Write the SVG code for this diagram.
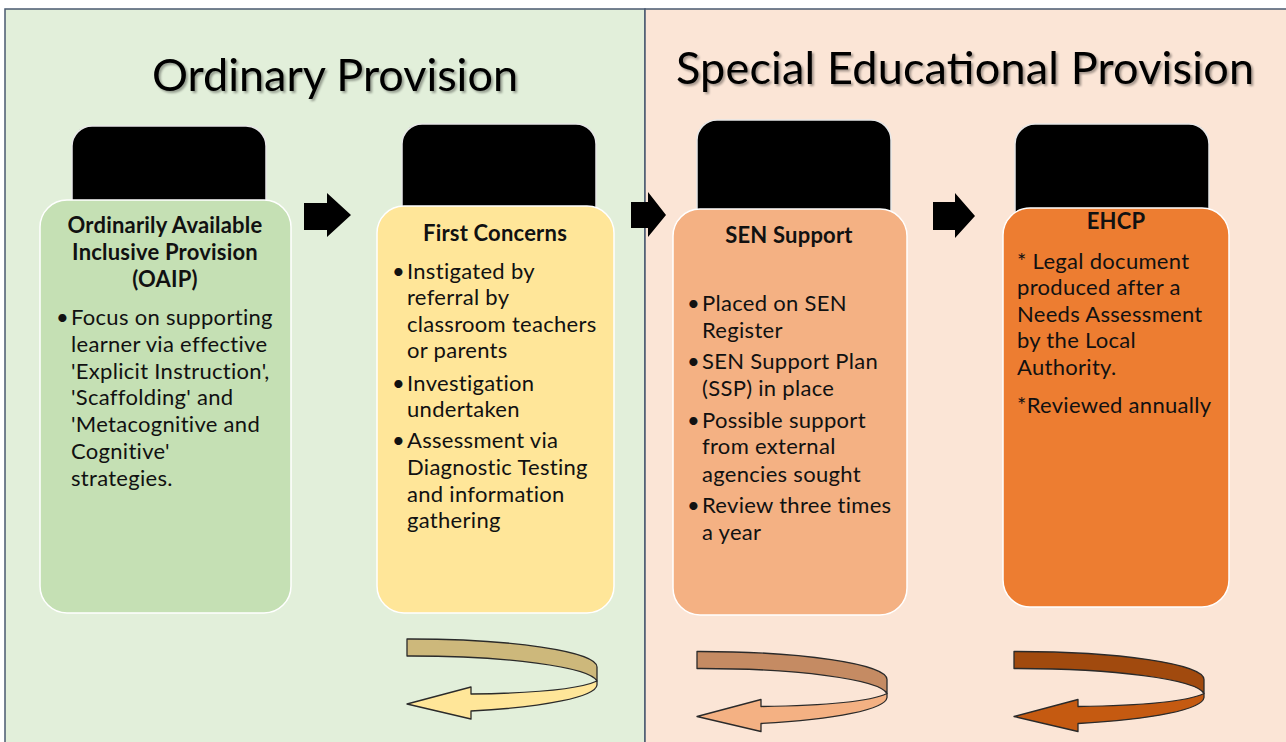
<svg xmlns="http://www.w3.org/2000/svg" width="1286" height="742" viewBox="0 0 1286 742">
<style>
.title{font-family:Lato,"Liberation Sans",sans-serif;font-size:45px;fill:#000;}
.head{font-family:Lato,"Liberation Sans",sans-serif;font-size:22px;letter-spacing:0.2px;font-weight:bold;fill:#111;text-anchor:middle;}
.body{font-family:Lato,"Liberation Sans",sans-serif;font-size:22px;letter-spacing:0.3px;fill:#111;}
.tab{fill:#000;stroke:#e8e8e8;stroke-width:1.5;}
.card{stroke:#ffffff;stroke-width:1.5;}
.blk{fill:#000;}
.rib{stroke:#2a2a2a;stroke-width:1.3;stroke-linejoin:round;}
</style>
<defs>
<filter id="sh" x="-5%" y="-20%" width="110%" height="150%">
<feDropShadow dx="2" dy="2" stdDeviation="1.2" flood-color="#000" flood-opacity="0.35"/>
</filter>
<g id="uturn-back"><path class="rib" d="M407,639 A187,28 0 0 1 597,667 L597,681 A187,27 0 0 0 407,656 Z"/></g>
<g id="uturn-front"><path class="rib" d="M597,681 C582,688 545,693 471,694 L471,687 L407,704 L471,719 L471,711 A187,28 0 0 0 597,685 Z"/></g>
</defs>
<rect x="0" y="0" width="1286" height="742" fill="#ffffff"/>
<g id="panels">
<rect x="5" y="9" width="640" height="745" fill="#E2EFDA" stroke="#4A5A70" stroke-width="1.5"/>
<rect x="645" y="9" width="650" height="745" fill="#FBE5D6" stroke="#4A5A70" stroke-width="1.5"/>
</g>
<g id="titles" filter="url(#sh)">
<text class="title" x="152" y="91" textLength="366">Ordinary Provision</text>
<text class="title" x="676" y="84" textLength="578">Special Educational Provision</text>
</g>
<g id="node-oaip">
<rect class="tab" x="72" y="126" width="194" height="110" rx="20"/>
<rect class="card" x="40" y="200" width="251" height="413" rx="27" fill="#C5E0B4"/>
<text class="head" x="165" y="233">Ordinarily Available</text>
<text class="head" x="165" y="260">Inclusive Provision</text>
<text class="head" x="165" y="287">(OAIP)</text>
<text class="body" x="56" y="325">•</text>
<text class="body" x="71" y="325">Focus on supporting</text>
<text class="body" x="71" y="352">learner via effective</text>
<text class="body" x="71" y="379">'Explicit Instruction',</text>
<text class="body" x="71" y="405">'Scaffolding' and</text>
<text class="body" x="71" y="432">'Metacognitive and</text>
<text class="body" x="71" y="459">Cognitive'</text>
<text class="body" x="71" y="486">strategies.</text>
</g>
<g id="node-first-concerns">
<rect class="tab" x="402" y="124" width="194" height="110" rx="20"/>
<rect class="card" x="377" y="206" width="237" height="407" rx="27" fill="#FFE699"/>
<text class="head" x="495" y="241">First Concerns</text>
<text class="body" x="392" y="279">•</text>
<text class="body" x="407" y="279">Instigated by</text>
<text class="body" x="407" y="305">referral by</text>
<text class="body" x="407" y="332">classroom teachers</text>
<text class="body" x="407" y="358">or parents</text>
<text class="body" x="392" y="391">•</text>
<text class="body" x="407" y="391">Investigation</text>
<text class="body" x="407" y="417">undertaken</text>
<text class="body" x="392" y="448">•</text>
<text class="body" x="407" y="448">Assessment via</text>
<text class="body" x="407" y="475">Diagnostic Testing</text>
<text class="body" x="407" y="502">and information</text>
<text class="body" x="407" y="528">gathering</text>
</g>
<g id="node-sen-support">
<rect class="tab" x="697" y="120" width="194" height="115" rx="20"/>
<rect class="card" x="673" y="209" width="234" height="406" rx="27" fill="#F4B183"/>
<text class="head" x="789" y="243">SEN Support</text>
<text class="body" x="687" y="311">•</text>
<text class="body" x="702" y="311">Placed on SEN</text>
<text class="body" x="702" y="338">Register</text>
<text class="body" x="687" y="369">•</text>
<text class="body" x="702" y="369">SEN Support Plan</text>
<text class="body" x="702" y="396">(SSP) in place</text>
<text class="body" x="687" y="428">•</text>
<text class="body" x="702" y="428">Possible support</text>
<text class="body" x="702" y="454">from external</text>
<text class="body" x="702" y="482">agencies sought</text>
<text class="body" x="687" y="513">•</text>
<text class="body" x="702" y="513">Review three times</text>
<text class="body" x="702" y="540">a year</text>
</g>
<g id="node-ehcp">
<rect class="tab" x="1015" y="124" width="194" height="110" rx="20"/>
<rect class="card" x="1003" y="208" width="226" height="399" rx="27" fill="#ED7D31"/>
<text class="head" x="1116" y="229">EHCP</text>
<text class="body" x="1017" y="269">* Legal document</text>
<text class="body" x="1017" y="295">produced after a</text>
<text class="body" x="1017" y="322">Needs Assessment</text>
<text class="body" x="1017" y="348">by the Local</text>
<text class="body" x="1017" y="375">Authority.</text>
<text class="body" x="1017" y="413">*Reviewed annually</text>
</g>
<g id="connectors">
<polygon class="blk" points="304,203 327,203 327,193 351,215 327,237 327,230 304,230"/>
<polygon class="blk" points="631,202 648,202 648,192 666,215 648,237 648,228 631,228"/>
<polygon class="blk" points="933,202 955,202 955,193 975,216 955,238 955,230 933,230"/>
<g id="cycle-first-concerns">
<use href="#uturn-back" fill="#CDB87B"/>
<use href="#uturn-front" fill="#FFE699"/>
</g>
<g id="cycle-sen-support" transform="translate(290,12.5)">
<use href="#uturn-back" fill="#C58B63"/>
<use href="#uturn-front" fill="#F4B183"/>
</g>
<g id="cycle-ehcp" transform="translate(607,12.5)">
<use href="#uturn-back" fill="#A14A0E"/>
<use href="#uturn-front" fill="#C55A11"/>
</g>
</g>
</svg>
